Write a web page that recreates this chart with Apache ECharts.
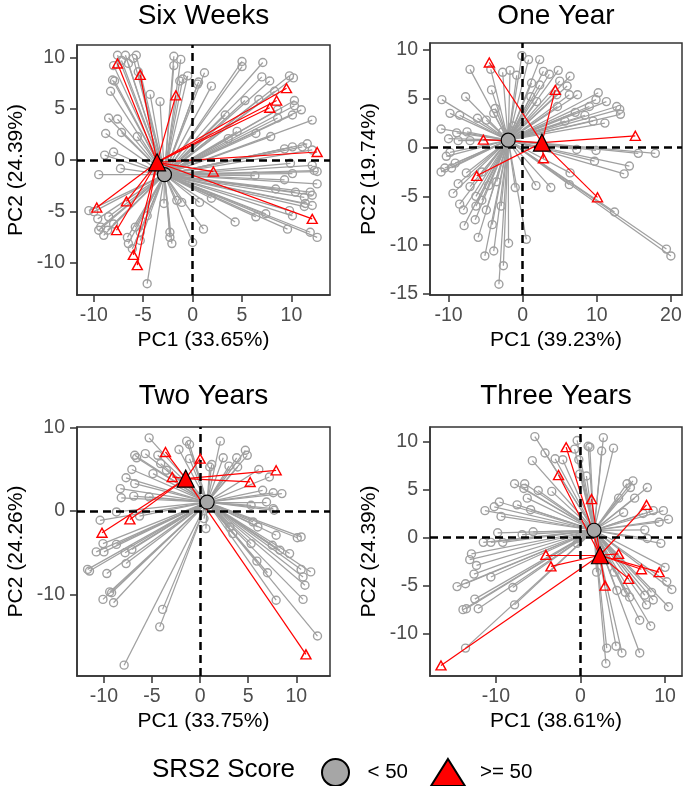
<!DOCTYPE html>
<html><head><meta charset="utf-8">
<script src="https://cdn.jsdelivr.net/npm/echarts@6/dist/echarts.min.js"></script>
<style>html,body{margin:0;padding:0;background:#fff}#c{width:685px;height:786px}</style>
</head><body><div id="c"></div>
<script>
// ---------- data ----------
const panelTitles = ['Six Weeks', 'One Year', 'Two Years', 'Three Years'];
const xTitles = ['PC1 (33.65%)', 'PC1 (39.23%)', 'PC1 (33.75%)', 'PC1 (38.61%)'];
const yTitles = ['PC2 (24.39%)', 'PC2 (19.74%)', 'PC2 (24.26%)', 'PC2 (24.39%)'];
const xTicks = [[-10, -5, 0, 5, 10], [-10, 0, 10, 20], [-10, -5, 0, 5, 10], [-10, 0, 10]];
const yTicks = [[-10, -5, 0, 5, 10], [-15, -10, -5, 0, 5, 10], [-10, 0, 10], [-10, -5, 0, 5, 10]];
const xRanges = [[-11.7, 13.9], [-12.5, 21.5], [-12.8, 13.5], [-17.8, 12.0]];
const yRanges = [[-13.1, 11.2], [-15.1, 10.7], [-19.8, 10.1], [-14.4, 11.5]];
const legendLabels = ['< 50', '>= 50'];
const legendTitle = 'SRS2 Score';

const sixWeeksLow = [[-7.6,10.2],[-6.8,10.2],[-6.0,9.9],[-5.7,10.2],[-7.2,9.7],[-6.5,9.4],[-8.0,9.2],[-5.5,8.6],[-8.1,7.8],[-7.9,7.7],[-8.3,6.7],[-4.3,6.4],[-3.3,5.7],[-1.9,10.1],[-1.2,9.8],[-1.9,9.2],[-0.5,8.2],[-1.3,7.7],[-1.0,7.9],[0.5,7.4],[0.6,7.6],[1.2,8.5],[1.9,7.2],[5.0,9.6],[5.0,9.1],[7.1,9.5],[7.0,8.1],[7.8,7.7],[9.8,8.2],[10.2,8.0],[8.3,6.7],[5.3,5.8],[6.7,5.9],[8.6,4.9],[10.3,5.8],[10.3,5.3],[11.0,4.9],[10.1,4.4],[12.1,3.9],[8.6,4.1],[3.3,4.4],[4.5,2.8],[6.4,2.6],[7.9,2.3],[3.6,2.1],[9.3,1.1],[10.1,1.3],[11.1,1.3],[11.6,1.6],[12.1,1.0],[9.9,-0.3],[12.1,-0.5],[12.3,-1.0],[12.6,-1.1],[10.1,-1.3],[6.3,-1.5],[12.6,-2.3],[11.9,-3.1],[9.3,-1.9],[8.4,-2.8],[10.4,-3.1],[11.3,-3.6],[12.1,-3.4],[11.4,-4.2],[11.3,-4.5],[12.1,-4.4],[9.8,-4.9],[10.1,-5.4],[7.4,-5.2],[6.4,-5.5],[9.6,-6.7],[11.9,-7.0],[12.6,-7.5],[4.3,-6.0],[1.1,-6.7],[0.0,-8.0],[1.9,-3.7],[0.7,-4.1],[-9.5,-1.4],[-7.3,-0.8],[-8.9,0.5],[-8.0,0.8],[-8.8,2.6],[-7.2,2.7],[-5.6,2.3],[-8.5,4.1],[-7.6,4.0],[-10.5,-4.9],[-10.0,-5.0],[-9.6,-5.7],[-9.3,-6.5],[-9.5,-6.8],[-9.0,-7.3],[-8.6,-6.8],[-8.5,-5.5],[-8.0,-6.2],[-6.6,-7.5],[-6.5,-8.1],[-6.1,-8.6],[-5.8,-6.5],[-5.3,-7.0],[-5.3,-7.8],[-4.6,-5.4],[-4.6,-12.0],[-2.9,-4.2],[-1.6,-3.9],[-1.1,-4.1],[-2.3,-7.0],[-2.3,-7.5],[-2.1,-8.1]];
const sixWeeksHigh = [[-7.6,9.4],[-5.3,8.3],[-1.7,6.3],[9.5,7.0],[8.5,5.8],[7.8,5.1],[12.6,0.8],[2.1,-1.1],[12.1,-5.7],[-9.7,-4.6],[-6.7,-4.0],[-7.7,-6.8],[-6.0,-9.2],[-5.6,-10.2]];
const sixWeeksCentroidLow = [-2.85, -1.4];
const sixWeeksCentroidHigh = [-3.6, -0.2];

const oneYearLow = [[-0.1,9.4],[0.8,9.0],[2.3,9.0],[-2.7,7.7],[-1.7,7.9],[-0.8,7.4],[-4.3,8.0],[-7.1,8.0],[2.8,7.8],[3.6,7.5],[4.8,7.9],[5.0,6.8],[6.0,6.3],[6.4,7.3],[1.2,6.6],[2.3,6.4],[-4.2,5.9],[-7.7,5.2],[-10.9,4.9],[1.1,5.2],[1.9,4.7],[4.6,5.4],[6.3,5.4],[7.4,5.4],[10.2,5.6],[9.9,4.9],[11.3,4.7],[9.0,4.2],[12.7,4.2],[13.1,3.9],[13.2,3.4],[4.7,4.2],[7.1,3.6],[8.4,3.3],[11.1,2.5],[9.5,2.7],[5.7,2.7],[-9.8,3.5],[-8.5,3.3],[-6.1,3.0],[-4.9,2.8],[-11.0,1.9],[-8.9,1.5],[-7.5,1.6],[-10.0,0.9],[-8.7,0.7],[-7.1,0.7],[-3.7,4.0],[-3.9,3.5],[-1.3,2.2],[-2.7,1.6],[7.3,-0.2],[9.9,-0.3],[15.6,-0.6],[17.9,-0.6],[14.4,-1.9],[13.7,-2.7],[9.7,-1.4],[6.4,-2.6],[6.3,-3.8],[3.8,-4.1],[1.8,-3.9],[-1.0,-4.1],[12.4,-6.6],[19.4,-10.4],[20.0,-11.1],[0.5,-9.4],[-11.0,-2.5],[-10.5,-2.1],[-9.6,-2.1],[-10.3,-0.9],[-9.8,-0.5],[-9.1,-1.6],[-8.7,-3.7],[-9.4,-4.7],[-8.5,-5.8],[-8.0,-6.4],[-7.9,-8.0],[-6.3,-5.0],[-6.3,-6.0],[-6.4,-7.4],[-5.5,-5.4],[-4.9,-6.4],[-6.0,-9.2],[-5.1,-11.1],[-3.9,-10.6],[-4.1,-7.9],[-2.6,-12.1],[-3.2,-14.0],[-1.9,-9.8],[-2.9,-6.0],[-4.6,-3.9],[-3.5,-3.5],[-7.6,-2.6],[-5.5,-2.5],[-7.1,-4.0]];
const oneYearHigh = [[-4.5,8.7],[4.4,5.9],[15.2,1.2],[-5.3,0.8],[2.8,-1.1],[-6.2,-2.9],[10.1,-5.1]];
const oneYearCentroidLow = [-1.95, 0.75];
const oneYearCentroidHigh = [2.6, 0.5];

const twoYearsLow = [[-5.3,8.8],[-1.4,8.4],[-1.1,8.0],[2.1,8.4],[-2.2,7.4],[-6.8,6.7],[-6.6,6.4],[-5.7,6.9],[-4.4,6.7],[-1.1,6.3],[4.7,7.3],[4.9,6.7],[3.8,6.4],[2.4,6.4],[1.0,5.3],[1.2,5.6],[3.0,5.4],[3.9,5.3],[6.1,5.0],[7.2,4.1],[-7.1,5.0],[-7.7,4.0],[-6.8,3.3],[-4.9,4.5],[-4.1,5.7],[-3.5,4.9],[-8.3,2.7],[-8.2,1.6],[-6.9,1.8],[-5.3,1.7],[6.5,2.5],[7.6,2.2],[8.5,2.1],[6.9,1.1],[7.6,0.3],[7.7,0.1],[5.3,0.7],[-10.4,-1.1],[-8.7,-0.1],[-6.3,-0.6],[-10.1,-3.9],[-10.8,-4.9],[-10.0,-4.9],[-8.7,-4.0],[-7.1,-4.6],[-7.8,-5.0],[-11.7,-7.0],[-11.5,-7.2],[-9.7,-7.5],[-7.7,-6.3],[-9.4,-9.7],[-9.2,-9.8],[-10.1,-10.6],[-9.0,-11.0],[-3.9,-11.8],[-4.2,-13.9],[-7.9,-18.5],[0.4,-0.9],[0.6,-2.1],[5.5,-1.3],[6.0,-1.9],[7.9,-2.9],[10.1,-3.2],[10.5,-3.1],[7.5,-4.1],[8.3,-4.7],[9.3,-5.1],[5.9,-6.0],[7.0,-7.4],[10.5,-7.0],[11.5,-7.3],[10.7,-7.9],[10.9,-8.9],[7.9,-10.7],[10.7,-10.6],[12.2,-15.0],[3.4,-2.7],[5.3,-3.9],[3.1,-1.9]];
const twoYearsHigh = [[-3.6,7.1],[0.0,6.3],[-2.9,4.1],[7.9,4.9],[5.2,3.5],[-7.3,-1.0],[-10.2,-2.6],[11.0,-17.2]];
const twoYearsCentroidLow = [0.73, 1.08];
const twoYearsCentroidHigh = [-1.5, 3.9];

const threeYearsLow = [[-5.4,10.5],[-0.4,10.1],[2.7,10.4],[0.9,9.5],[1.1,9.4],[-0.7,9.2],[2.5,9.0],[3.9,9.3],[-4.2,8.8],[-5.7,8.0],[-3.0,8.2],[-2.1,8.1],[-0.2,8.1],[0.7,6.4],[-0.1,6.6],[-3.4,4.8],[-7.8,5.6],[-6.6,5.6],[-6.7,5.1],[-5.0,4.9],[5.5,5.6],[6.2,5.9],[5.9,5.2],[7.9,5.2],[4.5,4.1],[6.4,4.1],[-6.3,4.1],[-9.6,3.7],[-10.2,3.2],[-11.3,2.8],[-9.4,2.2],[-7.5,3.4],[-5.9,2.9],[8.6,2.8],[9.8,2.8],[10.4,1.9],[9.3,1.6],[7.4,2.5],[5.1,2.6],[7.6,0.8],[7.9,-0.1],[9.5,-0.6],[-9.8,0.5],[-11.5,-0.5],[-10.6,-0.5],[-9.2,-0.5],[-6.9,0.3],[-5.6,0.6],[-0.4,-0.6],[-12.9,-1.7],[-13.1,-2.3],[-12.3,-2.9],[-12.6,-3.8],[-10.6,-4.1],[-14.6,-5.1],[-13.6,-4.8],[-13.9,-7.5],[-13.5,-7.4],[-12.5,-6.4],[-12.1,-7.4],[-8.0,-5.2],[-7.8,-7.0],[-13.6,-11.5],[1.9,-3.6],[4.0,-3.6],[5.3,-5.7],[5.8,-6.2],[7.6,-6.0],[8.4,-5.7],[8.6,-6.5],[7.8,-7.0],[10.8,-5.4],[10.2,-4.6],[10.4,-7.2],[7.0,-8.6],[8.3,-9.2],[3.1,-11.5],[4.2,-11.3],[4.9,-12.0],[7.0,-12.0],[3.0,-13.1],[4.3,-5.5],[10.0,-3.1]];
const threeYearsHigh = [[-1.7,9.4],[-2.6,6.5],[1.3,4.0],[7.8,3.4],[-4.1,-1.8],[-3.5,-3.0],[-16.5,-13.3],[2.9,-5.0],[5.7,-4.3],[7.2,-3.3],[9.3,-3.6],[4.5,-1.7]];
const threeYearsCentroidLow = [1.6, 0.76];
const threeYearsCentroidHigh = [2.3, -1.84];

// ---------- layout / style ----------
const FONT = "'Liberation Sans', Arial, sans-serif";
const GRAY = '#a0a0a0';
const RED = '#ff0000';
const grids = [
  {left: 77, top: 45, width: 253, height: 250},
  {left: 430, top: 43, width: 252, height: 252},
  {left: 77, top: 427, width: 253, height: 249},
  {left: 430, top: 427, width: 252, height: 249}
];
const panels = [
  {low: sixWeeksLow, high: sixWeeksHigh, cLow: sixWeeksCentroidLow, cHigh: sixWeeksCentroidHigh},
  {low: oneYearLow, high: oneYearHigh, cLow: oneYearCentroidLow, cHigh: oneYearCentroidHigh},
  {low: twoYearsLow, high: twoYearsHigh, cLow: twoYearsCentroidLow, cHigh: twoYearsCentroidHigh},
  {low: threeYearsLow, high: threeYearsHigh, cLow: threeYearsCentroidLow, cHigh: threeYearsCentroidHigh}
];

const xAxes = [], yAxes = [], series = [], graphics = [];
grids.forEach((g, i) => {
  xAxes.push({
    type: 'value', gridIndex: i, min: xRanges[i][0], max: xRanges[i][1],
    axisLine: {show: true, onZero: false, lineStyle: {color: '#333', width: 1.5}},
    axisTick: {show: true, length: 7, customValues: xTicks[i], lineStyle: {color: '#333', width: 1.5}},
    axisLabel: {customValues: xTicks[i], fontSize: 19.5, color: '#4d4d4d', margin: 11, fontFamily: FONT},
    splitLine: {show: false},
    name: xTitles[i], nameLocation: 'middle', nameGap: 35,
    nameTextStyle: {fontSize: 21, color: '#000', fontFamily: FONT}
  });
  yAxes.push({
    type: 'value', gridIndex: i, min: yRanges[i][0], max: yRanges[i][1],
    axisLine: {show: true, onZero: false, lineStyle: {color: '#333', width: 1.5}},
    axisTick: {show: true, length: 7, customValues: yTicks[i], lineStyle: {color: '#333', width: 1.5}},
    axisLabel: {customValues: yTicks[i], fontSize: 19.5, color: '#4d4d4d', margin: 12, fontFamily: FONT},
    splitLine: {show: false},
    name: yTitles[i], nameLocation: 'middle', nameGap: 50,
    nameTextStyle: {fontSize: 21, color: '#000', fontFamily: FONT}
  });
  const p = panels[i];
  const common = {xAxisIndex: i, yAxisIndex: i, silent: true, animation: false};
  series.push(Object.assign({
    type: 'lines', coordinateSystem: 'cartesian2d', z: 2,
    lineStyle: {color: GRAY, width: 1.25, opacity: 1, curveness: 0},
    data: p.low.map(pt => ({coords: [p.cLow, pt]}))
  }, common));
  series.push(Object.assign({
    type: 'scatter', z: 3, symbol: 'circle', symbolSize: 8,
    itemStyle: {color: 'rgba(255,255,255,0)', borderColor: GRAY, borderWidth: 1.4, opacity: 1},
    data: p.low
  }, common));
  series.push(Object.assign({
    type: 'lines', coordinateSystem: 'cartesian2d', z: 4,
    lineStyle: {color: RED, width: 1.2, opacity: 1, curveness: 0},
    data: p.high.map(pt => ({coords: [p.cHigh, pt]}))
  }, common));
  series.push(Object.assign({
    type: 'scatter', z: 5, symbol: 'triangle', symbolSize: [10, 9],
    itemStyle: {color: 'rgba(255,255,255,0)', borderColor: RED, borderWidth: 1.4, opacity: 1},
    data: p.high
  }, common));
  series.push(Object.assign({
    type: 'scatter', z: 6, data: [],
    markLine: {
      silent: true, symbol: ['none', 'none'], animation: false,
      label: {show: false},
      lineStyle: {color: '#000', width: 2.5, type: [8, 5], opacity: 1},
      emphasis: {disabled: true},
      data: [{xAxis: 0}, {yAxis: 0}]
    }
  }, common));
  series.push(Object.assign({
    name: legendLabels[0], type: 'scatter', z: 7, symbol: 'circle', symbolSize: 14,
    itemStyle: {color: '#a6a6a6', borderColor: '#000', borderWidth: 1.2, opacity: 1},
    data: [p.cLow]
  }, common));
  series.push(Object.assign({
    name: legendLabels[1], type: 'scatter', z: 8, symbol: 'triangle', symbolSize: 17,
    itemStyle: {color: RED, borderColor: '#000', borderWidth: 1.2, opacity: 1},
    data: [p.cHigh]
  }, common));
  const titleY = i < 2 ? 16 : 396;
  graphics.push({
    type: 'text', x: g.left + g.width / 2, y: titleY,
    style: {text: panelTitles[i], textAlign: 'center', textVerticalAlign: 'middle',
      fontSize: 28, fontFamily: FONT, fill: '#000'}
  });
});
graphics.push({
  type: 'text', x: 152, y: 770,
  style: {text: legendTitle, textAlign: 'left', textVerticalAlign: 'middle',
    fontSize: 26, fontFamily: FONT, fill: '#000'}
});

const chart = echarts.init(document.getElementById('c'), null, {renderer: 'canvas'});
chart.setOption({
  backgroundColor: '#fff',
  animation: false,
  grid: grids.map(g => Object.assign({show: true, borderColor: '#333', borderWidth: 1.5,
    backgroundColor: 'rgba(0,0,0,0)', containLabel: false, outerBoundsMode: 'none'}, g)),
  xAxis: xAxes,
  yAxis: yAxes,
  legend: {
    left: 316, top: 753, itemWidth: 34, itemHeight: 27, itemGap: 22,
    selectedMode: false,
    textStyle: {fontSize: 20.5, color: '#000', fontFamily: FONT, padding: [0, 0, 0, 10]},
    data: [{name: legendLabels[0], icon: 'circle'}, {name: legendLabels[1], icon: 'triangle'}]
  },
  tooltip: {show: false},
  graphic: graphics,
  series: series
});
</script>
</body></html>
